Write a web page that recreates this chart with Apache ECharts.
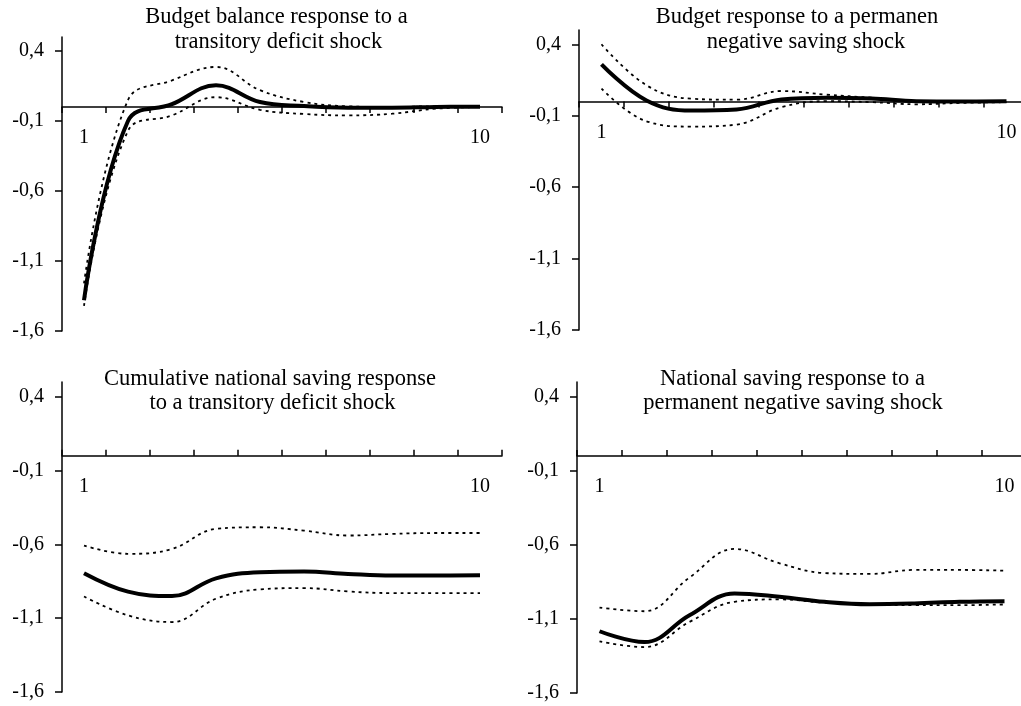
<!DOCTYPE html>
<html>
<head>
<meta charset="utf-8">
<script src="https://cdn.jsdelivr.net/npm/echarts@6/dist/echarts.min.js"></script>
<style>
html,body{margin:0;padding:0;background:#fff;}
#chart{width:1021px;height:706px;}
</style>
</head>
<body>
<div id="chart"></div>
<script>
// ---- data ----
const categories = ['1','2','3','4','5','6','7','8','9','10'];
const yTicks = [-1.6, -1.1, -0.6, -0.1, 0.4];
const yMin = -1.6, yMax = 0.5;

// Top-left: Budget balance response to a transitory deficit shock
const tlMid   = [-1.38, -0.10, 0.02, 0.155, 0.036, 0.007, -0.005, -0.005, 0.0, 0.002];
const tlUpper = [-1.26, 0.05, 0.19, 0.286, 0.12, 0.036, 0.005, 0.0, 0.005, 0.005];
const tlLower = [-1.42, -0.17, -0.06, 0.07, -0.02, -0.05, -0.06, -0.048, -0.012, 0.0];

// Top-right: Budget response to a permanent negative saving shock
const trMid   = [0.26, 0.007, -0.064, -0.056, 0.014, 0.026, 0.021, 0.002, 0.0, 0.002];
const trUpper = [0.40, 0.113, 0.019, 0.012, 0.073, 0.047, 0.026, 0.002, 0.002, 0.002];
const trLower = [0.09, -0.139, -0.176, -0.162, -0.04, 0.002, -0.005, -0.02, -0.01, -0.005];

// Bottom-left: Cumulative national saving response to a transitory deficit shock
const blMid   = [-0.795, -0.92, -0.95, -0.83, -0.788, -0.784, -0.80, -0.811, -0.811, -0.809];
const blUpper = [-0.608, -0.664, -0.631, -0.495, -0.484, -0.507, -0.54, -0.529, -0.523, -0.523];
const blLower = [-0.953, -1.081, -1.126, -0.968, -0.905, -0.896, -0.919, -0.93, -0.93, -0.93];

// Bottom-right: National saving response to a permanent negative saving shock
const brMid   = [-1.183, -1.256, -1.075, -0.928, -0.95, -0.984, -1.0, -0.995, -0.984, -0.98];
const brUpper = [-1.023, -1.048, -0.82, -0.627, -0.724, -0.79, -0.796, -0.769, -0.769, -0.774];
const brLower = [-1.251, -1.29, -1.12, -0.984, -0.968, -0.99, -1.0, -1.007, -1.007, -1.002];

const titleLines = [
  ['Budget balance response to a', 276.5, 16.7],
  ['transitory deficit shock', 278.5, 41.7],
  ['Budget response to a permanen', 797, 16.7],
  ['negative saving shock', 806, 41.7],
  ['Cumulative national saving response', 270, 379],
  ['to a transitory deficit shock', 272.5, 403],
  ['National saving response to a', 792.5, 379],
  ['permanent negative saving shock', 793, 403]
];

// ---- chart ----
const FONT = "'Times New Roman', 'Liberation Serif', serif";
const chart = echarts.init(document.getElementById('chart'));

const grids = [
  {left: 62, top: 37, width: 440, height: 294, outerBoundsMode: 'none', containLabel: false},
  {left: 579, top: 30, width: 450, height: 300, outerBoundsMode: 'none', containLabel: false},
  {left: 62, top: 382, width: 440, height: 310, outerBoundsMode: 'none', containLabel: false},
  {left: 577, top: 382, width: 450, height: 311, outerBoundsMode: 'none', containLabel: false}
];
const tickInside = [false, false, true, true];

const xAxes = grids.map((g, i) => ({
  type: 'category',
  gridIndex: i,
  data: categories,
  boundaryGap: true,
  axisLine: {show: true, onZero: true, lineStyle: {color: '#000', width: 1.5}},
  axisTick: {show: true, interval: 0, inside: tickInside[i], length: 6, lineStyle: {color: '#000', width: 1.5}},
  axisLabel: {
    interval: 0,
    formatter: (v, idx) => (idx === 0 || idx === categories.length - 1) ? v : '',
    // labels sit just below the zero line
    margin: 21 - g.height * (0 - yMin) / (yMax - yMin),
    color: '#000', fontSize: 20, fontFamily: FONT
  },
  splitLine: {show: false}
}));

const yAxes = grids.map((g, i) => ({
  type: 'value',
  gridIndex: i,
  min: yMin, max: yMax,
  axisLine: {show: true, onZero: false, lineStyle: {color: '#000', width: 1.5}},
  axisTick: {show: true, customValues: yTicks, length: 7, lineStyle: {color: '#000', width: 1.5}},
  axisLabel: {
    customValues: yTicks,
    formatter: v => v.toFixed(1).replace('.', ','),
    margin: 18, color: '#000', fontSize: 20, fontFamily: FONT
  },
  splitLine: {show: false}
}));

function mk(data, idx, solid) {
  return {
    type: 'line', xAxisIndex: idx, yAxisIndex: idx, data: data,
    smooth: 0.4, symbol: 'none', silent: true, z: solid ? 3 : 2,
    lineStyle: solid ? {color: '#000', width: 4} : {color: '#000', width: 1.8, type: [3, 4]}
  };
}

const panels = [[tlMid, tlUpper, tlLower], [trMid, trUpper, trLower], [blMid, blUpper, blLower], [brMid, brUpper, brLower]];
const series = [];
panels.forEach((p, i) => {
  series.push(mk(p[1], i, false));
  series.push(mk(p[2], i, false));
  series.push(mk(p[0], i, true));
});

chart.setOption({
  animation: false,
  backgroundColor: '#fff',
  title: titleLines.map(t => ({
    text: t[0], left: t[1], top: t[2] - 12.5, textAlign: 'center', padding: 0,
    textStyle: {fontFamily: FONT, fontSize: 22.5, fontWeight: 'normal', color: '#000', lineHeight: 25}
  })),
  grid: grids,
  xAxis: xAxes,
  yAxis: yAxes,
  series: series
});
</script>
</body>
</html>
